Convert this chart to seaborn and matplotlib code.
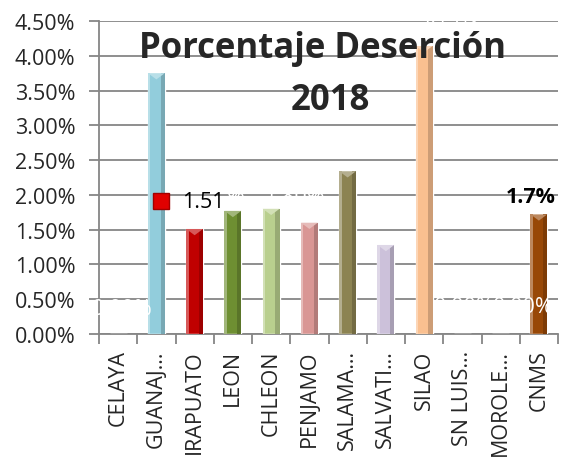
import matplotlib
matplotlib.use("Agg")
import matplotlib.pyplot as plt
import matplotlib.colors as mcolors
from matplotlib.ticker import PercentFormatter, MultipleLocator, FixedLocator
import seaborn as sns
import pandas as pd

categories = ["CELAYA", "GUANAJ…", "IRAPUATO", "LEON", "CHLEON", "PENJAMO",
              "SALAMA…", "SALVATI…", "SILAO", "SN LUIS…", "MOROLE…", "CNMS"]
values = [0.00, 3.75, 1.51, 1.77, 1.80, 1.60, 2.34, 1.28, 4.14, 0.00, 0.00, 1.72]
colors = ["#4F81BD", "#92CDDC", "#C00000", "#6E8F32", "#B9CF8E", "#D99694",
          "#8C8352", "#CCC1DA", "#FAC090", "#4F81BD", "#4F81BD", "#984807"]
title_lines = ["Porcentaje Deserción", "2018"]

sns.set_theme(style="white")
plt.rcParams["font.family"] = ["Open Sans", "DejaVu Sans"]

df = pd.DataFrame({"cat": categories, "val": values})

fig = plt.figure(figsize=(5.64, 4.64), dpi=100)
ax = fig.add_axes([99 / 564, 1 - 335 / 464, 459 / 564, 313 / 464])

sns.barplot(data=df, x="cat", y="val", hue="cat", palette=colors, legend=False,
            width=0.44, ax=ax, saturation=1, zorder=3)

# bevel-like shading derived from the drawn bars
for p, c in zip(ax.patches, colors):
    h = p.get_height()
    if h <= 0:
        continue
    x0, w = p.get_x(), p.get_width()
    base = mcolors.to_rgb(c)
    dark = tuple(v * 0.82 for v in base)
    light = tuple(min(1, v + (1 - v) * 0.35) for v in base)
    ax.add_patch(plt.Rectangle((x0 + w * 0.75, 0), w * 0.25, h, color=dark, zorder=4, lw=0))
    ax.add_patch(plt.Rectangle((x0, 0), w * 0.15, h, color=light, zorder=4, lw=0))
    ax.add_patch(plt.Polygon([(x0, h), (x0 + w, h), (x0 + w / 2, h - 0.09)],
                             closed=True, color=light, zorder=5, lw=0))

ax.set_ylim(0, 4.5)
ax.set_xlim(-0.5, len(categories) - 0.5)
ax.yaxis.set_major_locator(MultipleLocator(0.5))
ax.yaxis.set_major_formatter(PercentFormatter(decimals=2))
ax.grid(axis="y", color="#868686", lw=1.3, zorder=0)
ax.set_axisbelow(True)
ax.set_xlabel("")
ax.set_ylabel("")

for s in ["top", "right"]:
    ax.spines[s].set_visible(False)
for s in ["left", "bottom"]:
    ax.spines[s].set_color("#868686")
    ax.spines[s].set_linewidth(1.3)

ax.tick_params(axis="y", which="major", length=7, width=1.3, color="#868686",
               labelsize=15.5, pad=10, left=True)
ax.tick_params(axis="x", which="major", length=0, labelsize=15.5, pad=11)
ax.xaxis.set_minor_locator(FixedLocator([i - 0.5 for i in range(len(categories) + 1)]))
ax.tick_params(axis="x", which="minor", length=7, width=1.3, color="#868686", bottom=True)
for lab in ax.get_xticklabels():
    lab.set_rotation(90)
    lab.set_va("top")
    lab.set_ha("center")

# title inside the plot
ax.text(0.486, 0.885, title_lines[0], transform=ax.transAxes, ha="center", va="baseline",
        fontsize=25, fontweight="bold", zorder=10)
ax.text(0.503, 0.719, title_lines[1], transform=ax.transAxes, ha="center", va="baseline",
        fontsize=25, fontweight="bold", zorder=10)

# data labels (most are white in the original)
lab_fs = 15.5
ax.plot([1.12], [1.91], marker="s", markersize=11, color="#E00000",
        markeredgecolor="#A00000", zorder=8, clip_on=False)
ax.text(1.67, 1.91, f"{values[2]:.2f}", ha="left", va="center", fontsize=lab_fs, color="black", zorder=9)
ax.text(2.85, 1.97, "%", ha="left", va="center", fontsize=lab_fs, color="white", zorder=9)
ax.text(4.6, 1.97, f"{values[4]:.2f}%", ha="center", va="center", fontsize=lab_fs, color="white", zorder=9)
ax.text(7.0, 1.65, f"{values[7]:.2f}%", ha="center", va="center", fontsize=lab_fs, color="white", zorder=9)
ax.text(0.1, 0.36, f"{values[0]:.2f}%", ha="center", va="center", fontsize=lab_fs, color="white", zorder=9)
ax.text(9.05, 0.40, f"{values[9]:.2f}%", ha="center", va="center", fontsize=lab_fs, color="white", zorder=9)
ax.text(10.6, 0.40, f"{values[10]:.2f}%", ha="center", va="center", fontsize=lab_fs, color="white", zorder=9)
ax.text(8.65, 4.58, f"{values[8]:.2f}%", ha="center", va="center", fontsize=lab_fs, color="white",
        zorder=9, clip_on=False)
ax.text(11.45, 1.98, f"{values[11]:.1f}%", ha="right", va="center", fontsize=lab_fs,
        fontweight="bold", color="black", zorder=9, clip_on=False)

fig.savefig("out.png", dpi=100, facecolor="white")
